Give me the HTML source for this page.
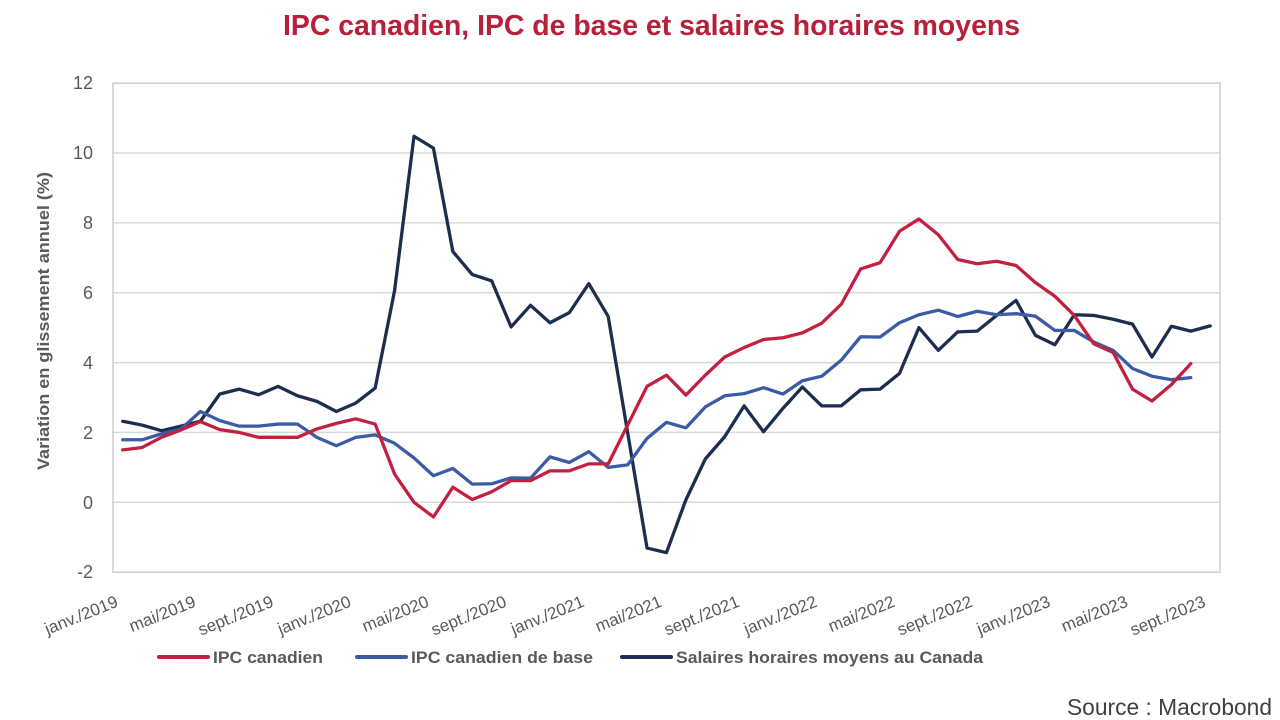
<!DOCTYPE html>
<html>
<head>
<meta charset="utf-8">
<style>
  html, body { margin:0; padding:0; background:#ffffff; }
  body { width:1280px; height:720px; overflow:hidden; }
  svg { display:block; }
  text { font-family: "Liberation Sans", "DejaVu Sans", sans-serif; }
</style>
</head>
<body>
<svg width="1280" height="720" viewBox="0 0 1280 720" xmlns="http://www.w3.org/2000/svg">
  <rect x="0" y="0" width="1280" height="720" fill="#ffffff"/>

  <!-- Title -->
  <text x="283" y="35" font-size="29" font-weight="bold" fill="#B71F3A" textLength="737" lengthAdjust="spacingAndGlyphs">IPC canadien, IPC de base et salaires horaires moyens</text>

  <!-- Gridlines -->
  <g stroke="#d9d9d9" stroke-width="1.5">
    <line x1="113" y1="153.0" x2="1220" y2="153.0"/>
    <line x1="113" y1="222.9" x2="1220" y2="222.9"/>
    <line x1="113" y1="292.7" x2="1220" y2="292.7"/>
    <line x1="113" y1="362.6" x2="1220" y2="362.6"/>
    <line x1="113" y1="432.4" x2="1220" y2="432.4"/>
    <line x1="113" y1="502.3" x2="1220" y2="502.3"/>
  </g>
  <!-- Plot border -->
  <rect x="113" y="83.1" width="1107" height="489.1" fill="none" stroke="#d0d0d0" stroke-width="1.6"/>

  <!-- Y tick labels -->
  <g font-size="18" fill="#595959" text-anchor="end">
    <text x="93" y="89">12</text>
    <text x="93" y="159">10</text>
    <text x="93" y="229">8</text>
    <text x="93" y="299">6</text>
    <text x="93" y="369">4</text>
    <text x="93" y="439">2</text>
    <text x="93" y="509">0</text>
    <text x="93" y="578">-2</text>
  </g>

  <!-- Y axis title -->
  <text transform="translate(49,321) rotate(-90)" text-anchor="middle" font-size="17" font-weight="bold" fill="#595959" textLength="298" lengthAdjust="spacingAndGlyphs">Variation en glissement annuel (%)</text>

  <!-- X tick labels -->
  <g font-size="17" fill="#595959" text-anchor="end">
    <text transform="translate(119.2,606) rotate(-22)">janv./2019</text>
    <text transform="translate(196.9,606) rotate(-22)">mai/2019</text>
    <text transform="translate(274.6,606) rotate(-22)">sept./2019</text>
    <text transform="translate(352.2,606) rotate(-22)">janv./2020</text>
    <text transform="translate(429.9,606) rotate(-22)">mai/2020</text>
    <text transform="translate(507.6,606) rotate(-22)">sept./2020</text>
    <text transform="translate(585.3,606) rotate(-22)">janv./2021</text>
    <text transform="translate(663.0,606) rotate(-22)">mai/2021</text>
    <text transform="translate(740.6,606) rotate(-22)">sept./2021</text>
    <text transform="translate(818.3,606) rotate(-22)">janv./2022</text>
    <text transform="translate(896.0,606) rotate(-22)">mai/2022</text>
    <text transform="translate(973.7,606) rotate(-22)">sept./2022</text>
    <text transform="translate(1051.4,606) rotate(-22)">janv./2023</text>
    <text transform="translate(1129.0,606) rotate(-22)">mai/2023</text>
    <text transform="translate(1206.7,606) rotate(-22)">sept./2023</text>
  </g>

  <!-- Series -->
  <g transform="translate(122.7,502.3) scale(19.42,-34.93)" fill="none" stroke-linejoin="round" stroke-linecap="round">
    <!-- Salaires horaires moyens -->
    <polyline vector-effect="non-scaling-stroke" stroke="#1C2E4F" stroke-width="3.3" points="0,2.32 1,2.21 2,2.05 3,2.18 4,2.32 5,3.10 6,3.24 7,3.08 8,3.32 9,3.05 10,2.89 11,2.60 12,2.84 13,3.27 14,6.06 15,10.48 16,10.14 17,7.18 18,6.52 19,6.34 20,5.02 21,5.64 22,5.14 23,5.43 24,6.26 25,5.32 26,2.0 27,-1.31 28,-1.44 29,0.07 30,1.24 31,1.88 32,2.76 33,2.02 34,2.69 35,3.30 36,2.76 37,2.76 38,3.22 39,3.24 40,3.69 41,5.0 42,4.35 43,4.88 44,4.90 45,5.35 46,5.78 47,4.78 48,4.51 49,5.37 50,5.35 51,5.24 52,5.10 53,4.16 54,5.04 55,4.90 56,5.05"/>
    <!-- IPC canadien de base -->
    <polyline vector-effect="non-scaling-stroke" stroke="#3B5BA5" stroke-width="3.3" points="0,1.79 1,1.79 2,1.96 3,2.10 4,2.60 5,2.34 6,2.18 7,2.18 8,2.24 9,2.24 10,1.86 11,1.62 12,1.86 13,1.93 14,1.69 15,1.27 16,0.76 17,0.97 18,0.52 19,0.53 20,0.70 21,0.69 22,1.30 23,1.14 24,1.45 25,1.00 26,1.07 27,1.83 28,2.29 29,2.13 30,2.73 31,3.05 32,3.11 33,3.28 34,3.10 35,3.48 36,3.61 37,4.07 38,4.74 39,4.73 40,5.14 41,5.37 42,5.50 43,5.32 44,5.47 45,5.37 46,5.40 47,5.33 48,4.92 49,4.92 50,4.59 51,4.35 52,3.83 53,3.61 54,3.51 55,3.57"/>
    <!-- IPC canadien -->
    <polyline vector-effect="non-scaling-stroke" stroke="#C1213F" stroke-width="3.3" points="0,1.50 1,1.57 2,1.86 3,2.07 4,2.31 5,2.08 6,2.00 7,1.86 8,1.86 9,1.86 10,2.10 11,2.26 12,2.39 13,2.24 14,0.81 15,0.0 16,-0.42 17,0.43 18,0.08 19,0.30 20,0.62 21,0.62 22,0.90 23,0.90 24,1.10 25,1.10 26,2.21 27,3.32 28,3.64 29,3.07 30,3.64 31,4.16 32,4.43 33,4.66 34,4.71 35,4.85 36,5.13 37,5.67 38,6.68 39,6.86 40,7.76 41,8.11 42,7.66 43,6.95 44,6.83 45,6.90 46,6.78 47,6.29 48,5.90 49,5.35 50,4.54 51,4.29 52,3.24 53,2.90 54,3.37 55,3.97"/>
  </g>

  <!-- Legend -->
  <g stroke-width="4" stroke-linecap="round">
    <line x1="159" y1="657" x2="208" y2="657" stroke="#C1213F"/>
    <line x1="357" y1="657" x2="406" y2="657" stroke="#3B5BA5"/>
    <line x1="622" y1="657" x2="671" y2="657" stroke="#1C2E4F"/>
  </g>
  <g font-size="17" font-weight="bold" fill="#595959">
    <text x="213" y="663" textLength="110" lengthAdjust="spacingAndGlyphs">IPC canadien</text>
    <text x="411" y="663" textLength="182" lengthAdjust="spacingAndGlyphs">IPC canadien de base</text>
    <text x="676" y="663" textLength="307" lengthAdjust="spacingAndGlyphs">Salaires horaires moyens au Canada</text>
  </g>

  <!-- Source -->
  <text x="1067" y="715" font-size="23" fill="#404040" textLength="205" lengthAdjust="spacingAndGlyphs">Source : Macrobond</text>
</svg>
</body>
</html>
